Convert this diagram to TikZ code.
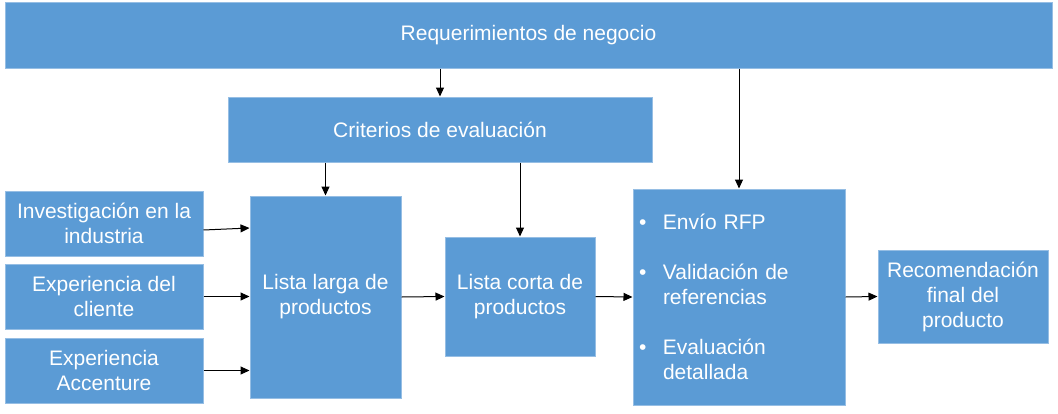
\documentclass[tikz,border=0pt]{standalone}
\usepackage{fontspec}
\setmainfont{Liberation Sans}
\usetikzlibrary{arrows.meta}
\definecolor{boxblue}{RGB}{91,155,213}
\definecolor{boxedge}{RGB}{150,190,228}
\newcommand{\rfpitem}{\makebox[30pt][l]{\hspace{6pt}\textbullet}}
\begin{document}
\begin{tikzpicture}[x=1pt, y=-1pt,
  block/.style={draw=boxedge, line width=1pt, fill=boxblue, text=white,
    align=center, inner sep=0pt, font=\fontsize{21}{25}\selectfont},
  link/.style={-{Triangle[length=9pt,width=8pt]}, line width=1pt}]
  \useasboundingbox (0,0) rectangle (1058,413);
  \node[block, minimum width=1047, minimum height=66] (req) at (528.5,35) {Requerimientos de negocio};
  \node[block, minimum width=424, minimum height=65] (crit) at (440,129.5) {Criterios de evaluación};
  \node[block, minimum width=198, minimum height=65] (inv) at (104,223.5) {Investigación en la\\industria};
  \node[block, minimum width=198, minimum height=65] (expc) at (104,296.5) {Experiencia del\\cliente};
  \node[block, minimum width=198, minimum height=65] (expa) at (104,370.5) {Experiencia\\Accenture};
  \node[block, minimum width=151, minimum height=202] (larga) at (325.5,297) {Lista larga de\\productos};
  \node[block, minimum width=150, minimum height=119] (corta) at (520,296.5) {Lista corta de\\productos};
  \node[block, minimum height=216, text width=212, align=left] (rfp) at (739,297)
    {\rfpitem Envío RFP\\[25pt]
     \rfpitem Validación de\\\hspace*{30pt}referencias\\[25pt]
     \rfpitem Evaluación\\\hspace*{30pt}detallada};
  \node[block, minimum width=170, minimum height=93] (rec) at (963,296.5) {Recomendación\\final del\\producto};
  \draw[link] (crit |- req.south) -- (crit.north);
  \draw[link] (rfp |- req.south) -- (rfp.north);
  \draw[link] (larga |- crit.south) -- (larga.north);
  \draw[link] (corta |- crit.south) -- (corta.north);
  \draw[link] ([yshift=-6.5pt]inv.east) -- ([yshift=-4.5pt]larga.west |- inv.east);
  \draw[link] (expc.east) -- (expc.east -| larga.west);
  \draw[link] (expa.east) -- (expa.east -| larga.west);
  \draw[link] (larga.east) -- (corta.west);
  \draw[link] (corta.east) -- (rfp.west);
  \draw[link] (rfp.east) -- (rec.west);
\end{tikzpicture}
\end{document}
